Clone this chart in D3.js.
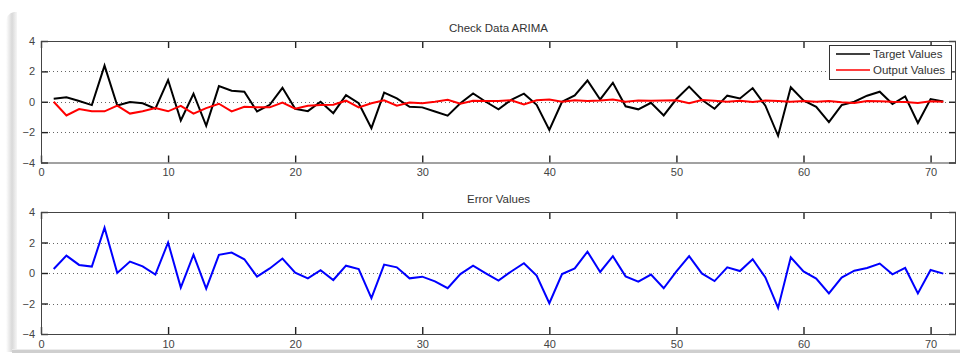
<!DOCTYPE html>
<html>
<head>
<meta charset="utf-8">
<script src="https://cdn.jsdelivr.net/npm/d3@7/dist/d3.min.js"></script>
<style>
  html, body { margin: 0; padding: 0; background: #fff; }
  svg { display: block; }
  text { font-family: "Liberation Sans", Arial, sans-serif; }
</style>
</head>
<body>
<svg id="chart" width="960" height="354"></svg>
<script>
// Sample index 1..71
const sampleIndex = d3.range(1, 72);

// Measured series
const targetValues = [
  0.2, 0.3, 0.05, -0.22, 2.38, -0.25, -0.02, -0.1, -0.45, 1.43,
  -1.23, 0.53, -1.58, 1.03, 0.73, 0.66, -0.64, -0.2, 0.92, -0.46,
  -0.62, 0.0, -0.75, 0.44, -0.1, -1.74, 0.6, 0.22, -0.33, -0.37,
  -0.64, -0.92, -0.1, 0.55, 0.0, -0.5, 0.13, 0.53, -0.2, -1.85,
  0.0, 0.42, 1.4, 0.15, 1.25, -0.3, -0.5, -0.07, -0.9, 0.18,
  1.0, 0.13, -0.46, 0.4, 0.22, 0.9, -0.26, -2.24, 0.95, 0.09,
  -0.33, -1.34, -0.22, 0.0, 0.4, 0.66, -0.15, 0.35, -1.4, 0.18,
  0.02
];

// ARIMA model output
const outputValues = [
  0.0, -0.9, -0.48, -0.63, -0.63, -0.26, -0.78, -0.63, -0.42, -0.63,
  -0.27, -0.78, -0.42, -0.13, -0.63, -0.33, -0.37, -0.37, -0.05, -0.46,
  -0.27, -0.22, -0.2, 0.07, -0.37, -0.1, 0.1, -0.26, -0.05, -0.1,
  0.0, 0.13, -0.13, 0.07, 0.05, 0.05, 0.1, -0.17, 0.1, 0.15,
  0.0, 0.1, 0.05, 0.08, 0.15, 0.0, 0.08, 0.06, 0.08, 0.1,
  -0.1, 0.12, 0.06, 0.0, 0.06, -0.02, 0.08, 0.05, 0.0, 0.05,
  0.0, 0.05, -0.03, -0.08, 0.05, 0.03, 0.0, -0.01, -0.08, 0.03,
  0.0
];

// Residuals
const errorValues = [
  0.26, 1.14, 0.53, 0.42, 2.97, 0.0, 0.75, 0.44, -0.1, 2.0,
  -0.95, 1.2, -1.03, 1.19, 1.34, 0.9, -0.24, 0.3, 0.95, 0.02,
  -0.35, 0.18, -0.46, 0.48, 0.26, -1.65, 0.55, 0.37, -0.35, -0.24,
  -0.55, -1.0, -0.07, 0.48, -0.02, -0.5, 0.1, 0.64, -0.17, -1.98,
  -0.07, 0.3, 1.4, 0.07, 1.1, -0.22, -0.57, -0.1, -1.0, 0.1,
  1.1, -0.03, -0.53, 0.37, 0.13, 0.9, -0.29, -2.29, 1.03, 0.1,
  -0.37, -1.34, -0.3, 0.15, 0.33, 0.62, -0.09, 0.33, -1.34, 0.2,
  -0.04
];

const xTicks = [0, 10, 20, 30, 40, 50, 60, 70];
const yTicks = [-4, -2, 0, 2, 4];
const legendLabels = ["Target Values", "Output Values"];
const seriesColors = ["#000000", "#ff0000"];

const svg = d3.select("#chart");

// Window frame: soft left shadow and bottom edge
const defs = svg.append("defs");
const grad = defs.append("linearGradient").attr("id", "leftShade")
  .attr("x1", "0%").attr("x2", "100%");
grad.append("stop").attr("offset", "0%").attr("stop-color", "#ffffff");
grad.append("stop").attr("offset", "55%").attr("stop-color", "#d9d9d9");
grad.append("stop").attr("offset", "100%").attr("stop-color", "#f6f6f6");
svg.append("path")
  .attr("d", "M6,24 Q6,13 14,12 L17,12 L17,352 L6,352 Z")
  .attr("fill", "url(#leftShade)");
svg.append("rect").attr("x", 12).attr("y", 350).attr("width", 948).attr("height", 3)
  .attr("fill", "#cfcfcf");
svg.append("rect").attr("x", 12).attr("y", 349).attr("width", 948).attr("height", 1)
  .attr("fill", "#ececec");

const left = 41, right = 956;
const x = d3.scaleLinear().domain([0, 72]).range([left, right]);

function drawPanel(top, bottom, title, series) {
  const y = d3.scaleLinear().domain([-4, 4]).range([bottom, top]);
  const g = svg.append("g");

  // dotted grid at y ticks
  g.append("g").selectAll("line").data(yTicks.filter(t => t > -4 && t < 4)).join("line")
    .attr("x1", left).attr("x2", right)
    .attr("y1", d => Math.round(y(d)) + 0.5).attr("y2", d => Math.round(y(d)) + 0.5)
    .attr("stroke", "#666").attr("stroke-width", 1).attr("stroke-dasharray", "1,3");

  // axes with inward ticks (MATLAB style box)
  const tickLen = 7;
  const xb = d3.axisBottom(x).tickValues(xTicks).tickSize(-tickLen).tickPadding(6)
    .tickFormat(d3.format("d"));
  const xt = d3.axisTop(x).tickValues(xTicks).tickSize(-tickLen).tickFormat("");
  const yl = d3.axisLeft(y).tickValues(yTicks).tickSize(-tickLen).tickPadding(6)
    .tickFormat(d3.format("d"));
  const yr = d3.axisRight(y).tickValues(yTicks).tickSize(-tickLen).tickFormat("");

  const axes = [
    g.append("g").attr("transform", `translate(0,${bottom})`).call(xb),
    g.append("g").attr("transform", `translate(0,${top})`).call(xt),
    g.append("g").attr("transform", `translate(${left},0)`).call(yl),
    g.append("g").attr("transform", `translate(${right},0)`).call(yr)
  ];
  axes.forEach(a => {
    a.select(".domain").remove();
    a.selectAll(".tick line").attr("stroke", "#222").attr("stroke-width", 1.4);
    a.selectAll("text").attr("fill", "#444").attr("font-size", 11);
  });

  // series lines
  const line = d3.line().x((d, i) => x(sampleIndex[i])).y(d => y(d));
  series.forEach(s => {
    g.append("path").datum(s.values)
      .attr("d", line).attr("fill", "none")
      .attr("stroke", s.color).attr("stroke-width", 2)
      .attr("stroke-linejoin", "miter");
  });

  // axes box
  g.append("rect").attr("x", left + 0.5).attr("y", top + 0.5)
    .attr("width", right - left - 1).attr("height", bottom - top)
    .attr("fill", "none").attr("stroke", "#444").attr("stroke-width", 1);

  // title
  g.append("text").attr("x", (left + right) / 2).attr("y", top - 9)
    .attr("text-anchor", "middle").attr("font-size", 11.5).attr("fill", "#333")
    .text(title);
  return { g, y };
}

drawPanel(41, 162.5, "Check Data ARIMA", [
  { values: targetValues, color: seriesColors[0] },
  { values: outputValues, color: seriesColors[1] }
]);

drawPanel(212, 334, "Error Values", [
  { values: errorValues, color: "#0000ff" }
]);

// legend
const lg = svg.append("g");
lg.append("rect").attr("x", 829.5).attr("y", 45.5).attr("width", 122).attr("height", 34)
  .attr("fill", "#fff").attr("stroke", "#333").attr("stroke-width", 1);
legendLabels.forEach((lab, i) => {
  const yy = 54 + i * 16;
  lg.append("line").attr("x1", 836).attr("x2", 870).attr("y1", yy).attr("y2", yy)
    .attr("stroke", seriesColors[i]).attr("stroke-width", 1.5);
  lg.append("text").attr("x", 873).attr("y", yy + 4).attr("font-size", 11.5)
    .attr("fill", "#333").text(lab);
});
</script>
</body>
</html>
